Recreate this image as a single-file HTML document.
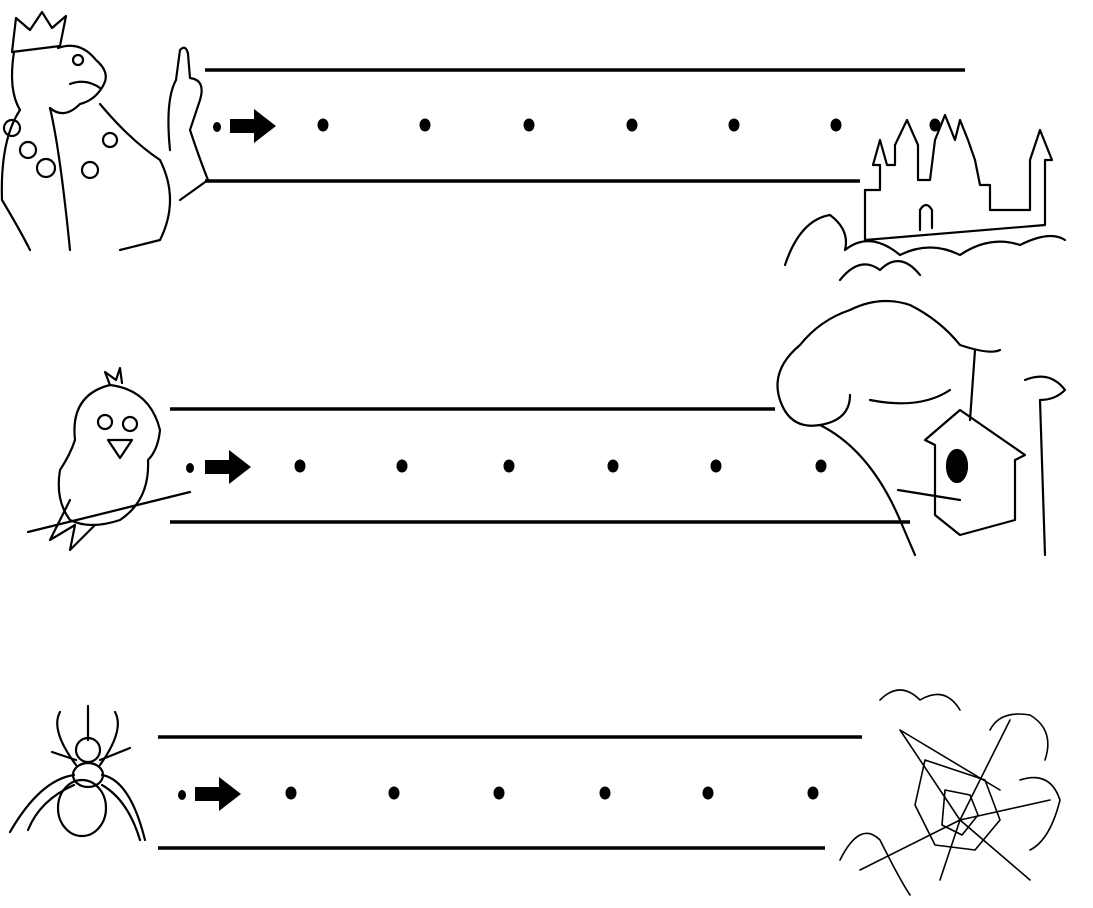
<!DOCTYPE html>
<html><head><meta charset="utf-8"><style>
html,body{margin:0;padding:0;background:#fff;}
svg{display:block;}
</style></head><body>
<svg id="sheet" width="1093" height="908" viewBox="0 0 1093 908" xmlns="http://www.w3.org/2000/svg">
<g fill="none" stroke="#000" stroke-width="2.2" stroke-linecap="round" stroke-linejoin="round">
<!-- king -->
<g>
<path d="M12 52 L16 18 L30 30 L42 12 L52 28 L66 16 L60 46 Z"/>
<path d="M14 52 Q8 90 20 110 M58 48 Q80 40 96 60 Q110 72 104 84 Q96 100 80 104 Q64 120 50 108"/>
<circle cx="78" cy="60" r="5"/><path d="M70 84 Q86 78 100 88"/>
<path d="M20 110 Q0 140 2 200 Q20 230 30 250 M50 108 Q60 150 70 250 M100 104 Q130 140 160 160 Q180 200 160 240 M160 240 L120 250"/>
<circle cx="12" cy="128" r="8"/><circle cx="28" cy="150" r="8"/><circle cx="46" cy="168" r="9"/><circle cx="90" cy="170" r="8"/><circle cx="110" cy="140" r="7"/>
<path d="M170 150 Q165 100 176 80 L180 50 Q186 44 188 54 L190 78 Q206 80 200 100 L190 130 Q200 160 208 180 L180 200"/>
</g>
<!-- castle -->
<g>
<path d="M865 240 L865 190 L880 190 L880 165 L873 165 L880 140 L887 165 L895 165 L895 145 L907 120 L918 145 L918 180 L930 180 L935 140 L945 115 L955 140 L960 120 L968 140 L975 160 L980 185 L990 185 L990 210 L1030 210 L1030 160 L1040 130 L1052 160 L1045 160 L1045 225 L865 240"/>
<path d="M920 230 L920 210 Q926 200 932 210 L932 228"/>
<path d="M785 265 Q800 220 830 215 Q850 230 845 250 Q870 230 900 255 Q930 240 960 255 Q990 235 1020 245 Q1050 230 1065 240 M840 280 Q860 255 880 270 Q900 250 920 275"/>
</g>
<!-- bird -->
<g>
<path d="M28 532 L190 492"/>
<path d="M75 440 Q70 395 110 385 Q150 390 160 430 Q158 450 148 460 Q150 500 120 520 Q90 530 70 520 Q55 500 60 470 Q70 455 75 440Z"/>
<circle cx="105" cy="422" r="7"/><circle cx="130" cy="424" r="7"/>
<path d="M108 440 L120 458 L132 440 Z"/>
<path d="M110 385 L105 372 L116 380 L120 368 L122 383"/>
<path d="M70 500 L50 540 L75 525 L70 550 L95 525"/>
</g>
<!-- tree with birdhouse -->
<g>
<path d="M780 400 Q770 370 800 345 Q820 320 850 310 Q880 295 910 305 Q940 320 960 345 Q990 355 1000 350 M780 400 Q790 430 820 425 Q850 420 850 395"/>
<path d="M820 425 Q870 450 900 520 L915 555 M870 400 Q920 410 950 390 M975 350 L970 420 M1040 400 L1045 555 M1025 380 Q1050 370 1065 390 Q1055 400 1040 400"/>
<path d="M925 440 L960 410 L1025 455 L1015 460 L1015 520 L960 535 L935 515 L935 445 Z"/>
<ellipse cx="957" cy="466" rx="10" ry="16" fill="#000"/>
<path d="M898 490 L960 500"/>
</g>
<!-- spider -->
<g>
<path d="M88 706 L88 740"/>
<ellipse cx="88" cy="750" rx="12" ry="12"/>
<ellipse cx="88" cy="775" rx="15" ry="12"/>
<ellipse cx="82" cy="808" rx="24" ry="28"/>
<path d="M76 765 Q50 730 60 712 M100 765 Q125 730 115 712 M74 775 Q40 780 10 832 M102 775 Q130 780 145 840 M74 785 Q40 800 28 830 M102 785 Q128 800 140 840 M76 760 L52 752 M100 760 L130 748"/>
</g>
<!-- spider web -->
<g stroke-width="1.6">
<path d="M900 730 L1000 790 M940 880 L960 820 L1050 800 M860 870 L960 820 L900 730 M960 820 L1010 720 M960 820 L1030 880"/>
<path d="M925 760 L985 780 L1000 820 L975 850 L935 845 L915 805 Z M945 790 L970 795 L978 815 L962 835 L942 825 Z"/>
<path d="M880 700 Q900 680 920 700 Q945 685 960 710 M990 730 Q1000 710 1030 715 Q1055 730 1045 760 M1020 780 Q1050 770 1060 800 Q1050 840 1030 850 M840 860 Q860 820 880 840 Q900 880 910 895"/>
</g>
</g>
<g id="rows"></g>
</svg>
<script>
const lineTops = [[205,965,70],[170,775,409],[158,862,737]];
const lineBottoms = [[205,860,181],[170,910,522],[158,825,848]];
const dotY = [125,466,793];
const startDotX = [217,190,182];
const arrowX = [230,205,195];
const row1DotsX = [323,425,529,632,734,836,935];
const row2DotsX = [300,402,509,613,716,821];
const row3DotsX = [291,394,499,605,708,813];
const dotsX = [row1DotsX,row2DotsX,row3DotsX];
const NS='http://www.w3.org/2000/svg';
const g=document.getElementById('rows');
function mk(t,a){const e=document.createElementNS(NS,t);for(const k in a)e.setAttribute(k,a[k]);g.appendChild(e);return e;}
for(let r=0;r<3;r++){
  const y=dotY[r];
  const t=lineTops[r], b=lineBottoms[r];
  let l1=mk('line',{x1:t[0],x2:t[1],y1:t[2],y2:t[2],stroke:'#000','stroke-width':3.5});
  
  
  let l2=mk('line',{x1:b[0],x2:b[1],y1:b[2],y2:b[2],stroke:'#000','stroke-width':3.5});
  
  
  let sd=mk('ellipse',{cx:startDotX[r],cy:y+2,rx:4,ry:5,fill:'#000'});
  
  
  const ax=arrowX[r];
  let ar=mk('path',{d:`M${ax} ${y-6} L${ax+24} ${y-6} L${ax+24} ${y-16} L${ax+46} ${y+1} L${ax+24} ${y+18} L${ax+24} ${y+8} L${ax} ${y+8} Z`,fill:'#000'});
  
  
  dotsX[r].forEach(x=>{
    let d=mk('ellipse',{cx:x,cy:y,rx:5.5,ry:6.5,fill:'#000'});
    
    
  });
}
</script>
</body></html>
